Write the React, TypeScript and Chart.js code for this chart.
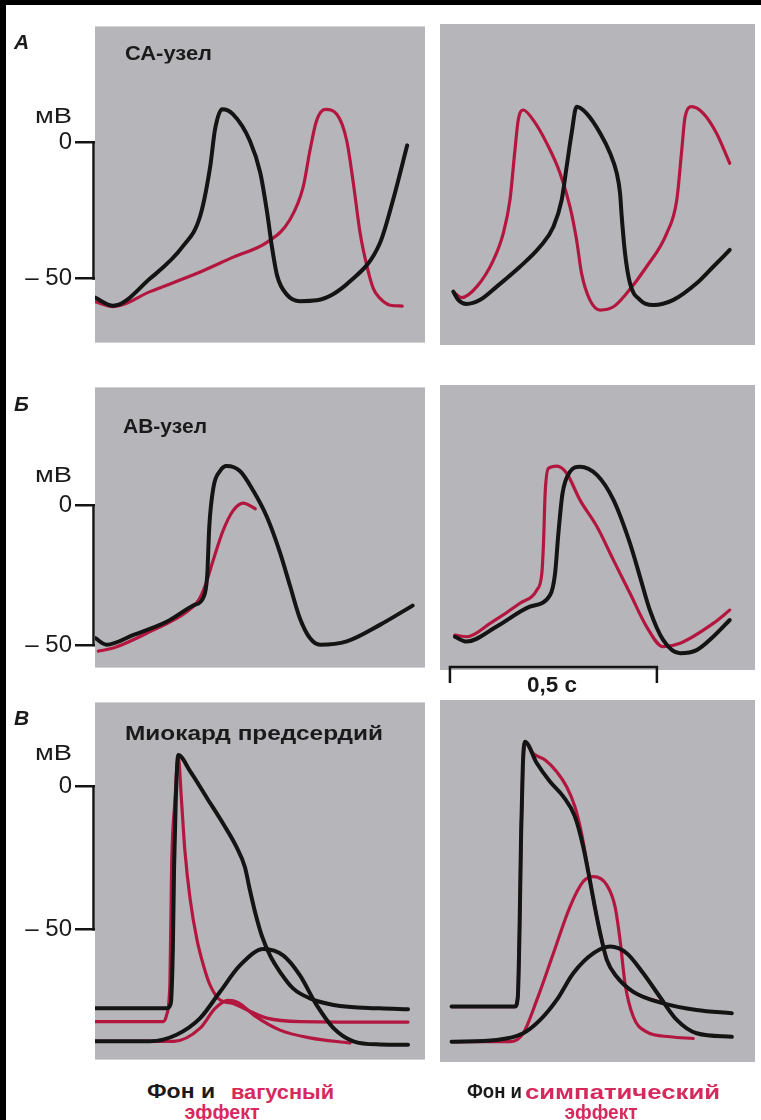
import React, { useEffect, useRef } from "react";
import { Chart, registerables } from "chart.js";

Chart.register(...registerables);

type Pt = [number, number]; // [time ms, membrane potential mV]

// ---------- A: SA node ----------
const saVagBlack: Pt[] = [[0,-57],[44,-60],[133,-50],[213,-38],[254,-27],[278,-9],[290,5],[307,12.3],[333,10.5],[374,0.7],[399,-11],[416,-26],[428,-39],[440,-49],[464,-56],[495,-58.3],[536,-58],[616,-51],[688,-37],[720,-21],[754,-1]];
const saVagRed: Pt[] = [[0,-58.5],[44,-60.3],[133,-54.8],[254,-47.6],[334,-42.1],[415,-36.7],[471,-28.3],[503,-16.2],[519,-3],[535,8],[556,12.2],[584,10.4],[608,0.7],[624,-15],[640,-33],[656,-45],[672,-53.6],[688,-57.2],[713,-59.8],[742,-60.1]];
const saSymBlack: Pt[] = [[32,-54.2],[44,-57.2],[64,-58.7],[97,-57.2],[137,-52.4],[193,-45.2],[242,-37.9],[274,-30.7],[294,-21],[306,-8.9],[318,3.2],[330,12.8],[354,10.4],[387,3.2],[411,-4.1],[427,-11.3],[435,-18.6],[439,-27],[447,-40.3],[459,-51.2],[483,-57.2],[515,-59.1],[564,-57.2],[620,-51.2],[660,-45.2],[700,-39.1]];
const saSymRed: Pt[] = [[36,-54.8],[52,-56.4],[89,-52.4],[129,-42.8],[153,-33],[169,-21],[181,-3],[189,8],[201,11.6],[225,8],[258,-0.5],[290,-11.3],[314,-23.4],[330,-35.5],[342,-47.6],[362,-57.2],[387,-60.9],[419,-59.7],[451,-54.8],[499,-45.2],[548,-33],[572,-21],[584,-3],[592,9],[608,12.8],[636,10.4],[668,3.2],[700,-7.7]];

// ---------- Б: AV node ----------
const avVagBlack: Pt[] = [[0,-47.5],[28,-49.9],[93,-46.4],[173,-41.7],[238,-35.8],[262,-32.9],[271,-25.2],[276,-7.6],[286,6.4],[302,12.3],[318,14.1],[350,12.3],[382,5.3],[415,-4.1],[447,-17],[471,-28.8],[495,-40.5],[519,-47.5],[544,-49.9],[608,-48.7],[688,-42.8],[767,-35.9]];
const avVagRed: Pt[] = [[8,-52.2],[44,-51.1],[133,-45.2],[222,-38.1],[250,-34],[266,-28.8],[286,-19.4],[310,-8.8],[334,-1.8],[358,0.8],[387,-1.2]];
const avSymBlack: Pt[] = [[36,-46.4],[64,-48.1],[137,-42.8],[217,-35.8],[266,-31.7],[278,-24.1],[286,-10],[296,4.1],[314,11.7],[338,13.5],[379,10.6],[419,1.8],[459,-13.5],[483,-25.2],[507,-37],[539,-47.5],[580,-52.2],[620,-51.1],[660,-46.4],[700,-40.5]];
const avSymRed: Pt[] = [[36,-45.8],[64,-46.4],[121,-41.7],[193,-34.6],[234,-29.9],[246,-24.1],[250,-13.5],[254,4.1],[262,12.9],[282,13.7],[306,11.2],[338,1.8],[379,-7.6],[419,-19.4],[459,-31.1],[499,-42.8],[539,-49.9],[580,-48.7],[660,-41.7],[700,-37]];

// ---------- В: atrial myocardium (AP + contraction) ----------
const atVagBlackAP: Pt[] = [[0,-77.6],[173,-77.6],[183,-75.9],[188,-56.9],[191,-28.2],[195,-5.2],[201,10.9],[230,5.2],[270,-4],[310,-13.2],[342,-21.3],[362,-28.2],[374,-36.2],[387,-44.2],[403,-52.3],[423,-59.2],[447,-64.9],[479,-70.7],[519,-74.1],[576,-76.4],[688,-77.6],[756,-77.9]];
const atVagRedAP: Pt[] = [[0,-82.2],[165,-82.2],[173,-79.9],[181,-68.3],[185,-28.2],[193,-5.2],[201,10.3],[209,-5.2],[217,-22.4],[230,-39.7],[246,-53.4],[262,-62.6],[278,-69.5],[302,-74.7],[333,-75.9],[374,-78.6],[415,-81],[495,-82.2],[756,-82.4]];
const atVagBlackForce: Pt[] = [[0,-89.1],[133,-89.1],[197,-86.8],[254,-81],[302,-71.8],[350,-62.6],[407,-56.9],[455,-59.2],[495,-66.1],[535,-76.4],[576,-84.5],[624,-89.1],[688,-90.2],[756,-90.3]];
const atVagRedForce: Pt[] = [[0,-89.1],[190,-89.1],[254,-84.5],[290,-77.6],[321,-74.8],[345,-75.5],[387,-80.3],[447,-85.2],[519,-87.9],[616,-89.7]];
const atSymBlackAP: Pt[] = [[28,-76.4],[181,-76.4],[188,-73],[192,-51.1],[196,-16.7],[200,6.3],[205,14.9],[234,7.5],[266,1.1],[298,-4],[326,-10.9],[346,-21.3],[362,-32.8],[374,-42],[387,-51.1],[403,-60.3],[427,-66.1],[467,-71.3],[540,-75.3],[620,-77.6],[705,-78.7]];
const atSymRedAP: Pt[] = [[28,-76.4],[181,-76.4],[188,-73],[192,-51.1],[196,-16.7],[200,6.3],[205,14.9],[225,10.9],[254,8.6],[282,4.6],[306,-0.6],[326,-7.5],[342,-16.7],[362,-32.8],[374,-42],[387,-51.1],[403,-60.3],[427,-66.1],[467,-71.3],[540,-75.3]];
const atSymBlackForce: Pt[] = [[28,-88.5],[137,-87.9],[201,-85.6],[242,-81],[282,-74.1],[322,-64.9],[371,-58],[411,-55.7],[451,-58],[491,-64.9],[531,-73],[572,-81],[620,-85.6],[705,-86.8]];
const atSymRedForce: Pt[] = [[28,-88.5],[169,-88.5],[201,-85.6],[234,-74.1],[274,-58],[314,-42],[346,-33.3],[371,-31.6],[403,-34.5],[423,-42],[435,-53.4],[447,-68.4],[467,-79.9],[499,-85.1],[556,-86.8],[612,-87.4]];

// axis ticks
const yTicks = [0, -50];
const yTickLabels = ["0", "– 50"];
const scaleBarStartMs = 24;
const scaleBarMs = 500;

const BLACK = "#141414";
const RED = "#b3173f";
const TEXT_RED = "#d62a5c";
const GRAY = "#b6b6ba";
const FONT = "'Liberation Sans', Arial, Helvetica, sans-serif";

type Series = { data: Pt[]; color: string; width: number };
type Panel = {
  left: number; top: number; w: number; h: number;
  yMin: number; yMax: number; xMax: number;
  axis: boolean; bar?: boolean; series: Series[];
};

const bk = (data: Pt[]): Series => ({ data, color: BLACK, width: 4 });
const rd = (data: Pt[]): Series => ({ data, color: RED, width: 3.2 });

const rowA = { top: 24, h: 321, yMin: -73.55, yMax: 42.75 };
const rowB = { top: 385, h: 285, yMin: -58.1, yMax: 42.25 };
const rowC = { top: 700, h: 362, yMin: -95.5, yMax: 29.3 };
const colL = { left: 95, w: 330, xMax: 797, axis: true };
const colR = { left: 440, w: 315, xMax: 761, axis: false };

const panels: Panel[] = [
  { ...rowA, ...colL, series: [bk(saVagBlack), rd(saVagRed)] },
  { ...rowA, ...colR, series: [bk(saSymBlack), rd(saSymRed)] },
  { ...rowB, ...colL, series: [bk(avVagBlack), rd(avVagRed)] },
  { ...rowB, ...colR, bar: true, series: [bk(avSymBlack), rd(avSymRed)] },
  { ...rowC, ...colL, series: [bk(atVagBlackAP), bk(atVagBlackForce), rd(atVagRedAP), rd(atVagRedForce)] },
  { ...rowC, ...colR, series: [bk(atSymBlackAP), bk(atSymBlackForce), rd(atSymRedAP), rd(atSymRedForce)] },
];

const bgPlugin = {
  id: "panelBg",
  beforeDraw(chart: any) {
    const { ctx, chartArea: a } = chart;
    ctx.save();
    ctx.fillStyle = GRAY;
    ctx.fillRect(a.left, a.top, a.right - a.left, a.bottom - a.top);
    ctx.restore();
  },
};

const bracketPlugin = {
  id: "bracket",
  afterDraw(chart: any) {
    const { ctx, chartArea: a } = chart;
    const y = chart.scales.y;
    const x = a.left - 1.5;
    ctx.save();
    ctx.strokeStyle = BLACK;
    ctx.lineWidth = 2.5;
    ctx.beginPath();
    ctx.moveTo(x, y.getPixelForValue(yTicks[0]) - 1.25);
    ctx.lineTo(x, y.getPixelForValue(yTicks[1]) + 1.25);
    ctx.stroke();
    ctx.restore();
  },
};

const barPlugin = {
  id: "scaleBar",
  afterDraw(chart: any) {
    const { ctx, chartArea: a } = chart;
    const xs = chart.scales.x;
    const x1 = xs.getPixelForValue(scaleBarStartMs);
    const x2 = xs.getPixelForValue(scaleBarStartMs + scaleBarMs);
    const y = a.bottom - 3;
    ctx.save();
    ctx.strokeStyle = BLACK;
    ctx.lineWidth = 2.5;
    ctx.beginPath();
    ctx.moveTo(x1, y + 16);
    ctx.lineTo(x1, y);
    ctx.lineTo(x2, y);
    ctx.lineTo(x2, y + 16);
    ctx.stroke();
    ctx.restore();
  },
};

const AXW = 89;
const PADT = 15;

function PanelChart({ p }: { p: Panel }) {
  const ref = useRef<HTMLCanvasElement>(null);
  const axw = p.axis ? AXW : 0;
  const padB = p.bar ? 35 : 15;
  const cw = p.w + axw;
  const ch = p.h + PADT + padB;
  useEffect(() => {
    const chart = new Chart(ref.current as HTMLCanvasElement, {
      type: "line",
      data: {
        datasets: p.series.map((s) => ({
          data: s.data.map(([x, y]) => ({ x, y })),
          borderColor: s.color,
          borderWidth: s.width,
          pointRadius: 0,
          fill: false,
          cubicInterpolationMode: "monotone",
          borderCapStyle: "round",
          borderJoinStyle: "round",
        })),
      } as any,
      options: {
        animation: false,
        responsive: false,
        devicePixelRatio: 1,
        events: [],
        layout: { padding: { top: PADT, bottom: padB, left: 0, right: 0 } },
        plugins: { legend: { display: false }, tooltip: { enabled: false } },
        scales: {
          x: { type: "linear", min: 0, max: p.xMax, display: false },
          y: {
            type: "linear",
            min: p.yMin,
            max: p.yMax,
            display: p.axis,
            afterFit: (s: any) => { if (p.axis) s.width = AXW; },
            afterBuildTicks: (s: any) => { s.ticks = yTicks.map((v) => ({ value: v })); },
            ticks: {
              callback: (v: any) => yTickLabels[yTicks.indexOf(Number(v))] ?? "",
              font: { family: FONT, size: 24 },
              color: "#1a1a1a",
              padding: 3,
            },
            grid: { drawOnChartArea: false, drawTicks: true, tickLength: 20, lineWidth: 2.5, color: BLACK },
            border: { display: false },
          },
        },
      } as any,
      plugins: [bgPlugin, ...(p.axis ? [bracketPlugin] : []), ...(p.bar ? [barPlugin] : [])],
    });
    return () => chart.destroy();
  }, []);
  return (
    <canvas
      ref={ref}
      width={cw}
      height={ch}
      style={{ position: "absolute", left: p.left - axw, top: p.top - PADT, width: cw, height: ch }}
    />
  );
}

let measureCtx: CanvasRenderingContext2D | null = null;
function measure(text: string, font: string): number {
  if (!measureCtx) measureCtx = document.createElement("canvas").getContext("2d");
  if (!measureCtx) return 0;
  measureCtx.font = font;
  return measureCtx.measureText(text).width;
}

type TxtProps = {
  x: number; y: number; text: string; size?: number; weight?: number;
  color?: string; italic?: boolean; anchor?: "left" | "center" | "right"; w?: number;
};

function Txt({ x, y, text, size = 21, weight = 700, color = "#1a1a1a", italic = false, anchor = "left", w }: TxtProps) {
  const tx = anchor === "left" ? "0" : anchor === "center" ? "-50%" : "-100%";
  const origin = anchor === "left" ? "left center" : anchor === "center" ? "center center" : "right center";
  let sx = 1;
  if (w) {
    const nat = measure(text, `${italic ? "italic " : ""}${weight} ${size}px ${FONT}`);
    if (nat > 0) sx = w / nat;
  }
  return (
    <div
      style={{
        position: "absolute", left: x, top: y, transform: `translate(${tx}, -50%) scaleX(${sx})`,
        transformOrigin: origin,
        fontFamily: FONT, fontSize: size, fontWeight: weight, color,
        fontStyle: italic ? "italic" : "normal", lineHeight: 1, whiteSpace: "nowrap",
      }}
    >
      {text}
    </div>
  );
}

export default function App() {
  return (
    <div style={{ position: "absolute", left: 0, top: 0, width: 761, height: 1120, background: "#ffffff", overflow: "hidden" }}>
      <div style={{ position: "absolute", left: 0, top: 0, width: 761, height: 5, background: "#000" }} />
      <div style={{ position: "absolute", left: 0, top: 0, width: 6, height: 1120, background: "#000" }} />
      {panels.map((p, i) => (
        <PanelChart key={i} p={p} />
      ))}
      <Txt x={14} y={41} text="А" italic size={21} />
      <Txt x={14} y={403} text="Б" italic size={21} />
      <Txt x={14} y={717} text="В" italic size={21} />
      <Txt x={125} y={52} text="СА-узел" size={21} w={87} />
      <Txt x={123} y={425} text="АВ-узел" size={21} w={84} />
      <Txt x={125} y={732} text="Миокард предсердий" size={21} w={258} />
      <Txt x={72} y={116} text="мВ" anchor="right" size={22} weight={400} w={37} />
      <Txt x={72} y={475} text="мВ" anchor="right" size={22} weight={400} w={37} />
      <Txt x={72} y={753} text="мВ" anchor="right" size={22} weight={400} w={37} />
      <Txt x={552} y={685} text="0,5 с" anchor="center" size={22} w={50} />
      <Txt x={147} y={1090} text="Фон и" size={21} w={68} />
      <Txt x={231} y={1091} text="вагусный" size={21} color={TEXT_RED} w={103} />
      <Txt x={222} y={1111} text="эффект" anchor="center" size={21} color={TEXT_RED} w={75} />
      <Txt x={467} y={1090} text="Фон и" size={21} w={55} />
      <Txt x={525} y={1091} text="симпатический" size={21} color={TEXT_RED} w={195} />
      <Txt x={601} y={1111} text="эффект" anchor="center" size={21} color={TEXT_RED} w={73} />
    </div>
  );
}
